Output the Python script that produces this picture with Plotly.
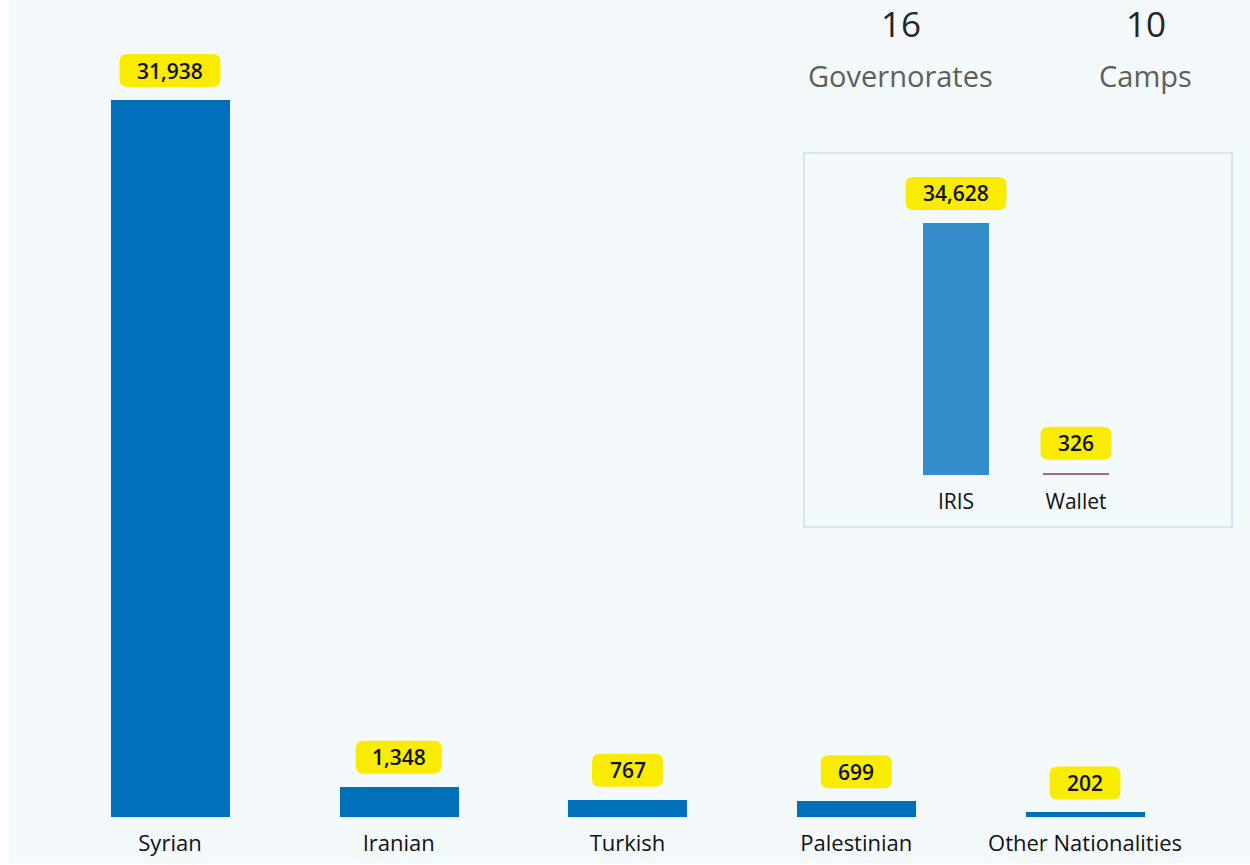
import plotly.graph_objects as go

nationalities = ["Syrian", "Iranian", "Turkish", "Palestinian", "Other Nationalities"]
nationality_counts = [31938, 1348, 767, 699, 202]

platforms = ["IRIS", "Wallet"]
platform_counts = [34628, 326]
platform_colors = ["#348DCB", "#A7679E"]

kpi_values = ["16", "10"]
kpi_labels = ["Governorates", "Camps"]

W, H = 1250, 865
FONT = "Open Sans"
YELLOW = "#F9EC00"


def px_x(p):
    return p / W


def px_y(p):
    return (H - p) / H


fig = go.Figure()

fig.add_trace(go.Bar(
    x=nationalities, y=nationality_counts, marker_color="#0070BA",
    marker_line_width=0, width=0.52, hoverinfo="x+y", xaxis="x", yaxis="y",
))
fig.add_trace(go.Bar(
    x=platforms, y=platform_counts, marker_color=platform_colors,
    marker_line_width=0, width=0.55, hoverinfo="x+y", xaxis="x2", yaxis="y2",
))


def label_box(xref, yref, xcat, val):
    txt = f"{val:,}"
    digits = sum(c.isdigit() for c in txt)
    w = 15 * digits + 26
    hw = w / 2
    b, t, r = 13, 46, 8
    path = (f"M {-hw + r},{b} L {hw - r},{b} Q {hw},{b} {hw},{b + r} "
            f"L {hw},{t - r} Q {hw},{t} {hw - r},{t} L {-hw + r},{t} "
            f"Q {-hw},{t} {-hw},{t - r} L {-hw},{b + r} Q {-hw},{b} {-hw + r},{b} Z")
    fig.add_shape(type="path", xref=xref, yref=yref, xsizemode="pixel",
                  ysizemode="pixel", xanchor=xcat, yanchor=val, path=path,
                  fillcolor=YELLOW, line=dict(width=0), layer="above")
    fig.add_annotation(x=xcat, y=val, xref=xref, yref=yref, text=txt,
                       showarrow=False, yanchor="middle", yshift=(b + t) / 2,
                       font=dict(family=FONT, size=21, color="#111111", weight=600))


for c, v in zip(nationalities, nationality_counts):
    label_box("x", "y", c, v)
for c, v in zip(platforms, platform_counts):
    label_box("x2", "y2", c, v)

# background panel and inset frame
fig.add_shape(type="rect", xref="paper", yref="paper", x0=px_x(9), x1=1,
              y0=px_y(863), y1=1, fillcolor="#F4F9FC", line=dict(width=0),
              layer="below")
fig.add_shape(type="rect", xref="paper", yref="paper", x0=px_x(804), x1=px_x(1232),
              y0=px_y(527), y1=px_y(153), fillcolor="rgba(0,0,0,0)",
              line=dict(color="#D5E6F3", width=2), layer="below")

# KPI cards
for xc, val, lab in zip([901, 1146], kpi_values, kpi_labels):
    fig.add_annotation(x=px_x(xc), y=px_y(23), xref="paper", yref="paper",
                       text=val, showarrow=False, xanchor="center", yanchor="middle",
                       font=dict(family=FONT, size=35, color="#252423", weight=500))
    fig.add_annotation(x=px_x(xc - 1), y=px_y(76), xref="paper", yref="paper",
                       text=lab, showarrow=False, xanchor="center", yanchor="middle",
                       font=dict(family=FONT, size=29, color="#605E5C", weight=500))

main_ymax = nationality_counts[0] * 817 / 717
inset_ymax = platform_counts[0] * (475 - 153) / (475 - 223)

fig.update_layout(
    width=W, height=H,
    margin=dict(l=0, r=0, t=0, b=0),
    paper_bgcolor="#FFFFFF", plot_bgcolor="rgba(0,0,0,0)",
    showlegend=False, bargap=0,
    xaxis=dict(domain=[px_x(55.6), px_x(1199.4)], range=[-0.5, 4.5],
               showgrid=False, zeroline=False, showline=False,
               ticks="", ticklabelstandoff=11,
               tickfont=dict(family=FONT, size=22, color="#111111", weight=500)),
    yaxis=dict(domain=[px_y(817), 1], range=[0, main_ymax], visible=False),
    xaxis2=dict(domain=[px_x(896), px_x(1136)], range=[-0.5, 1.5], anchor="y2",
                showgrid=False, zeroline=False, showline=False,
                ticks="", ticklabelstandoff=12,
                tickfont=dict(family=FONT, size=21, color="#111111", weight=500)),
    yaxis2=dict(domain=[px_y(475), px_y(153)], range=[0, inset_ymax],
                anchor="x2", visible=False),
)

fig.write_html("out.html")
